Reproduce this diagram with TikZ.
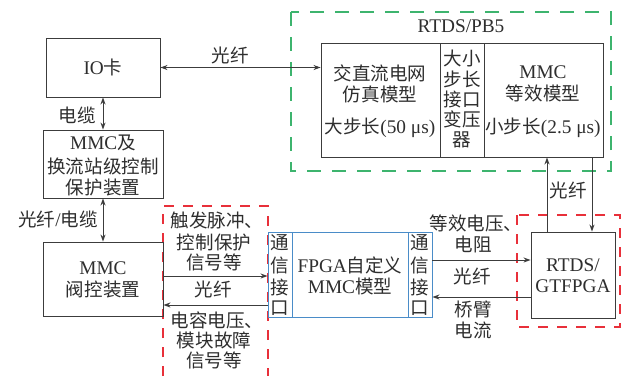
\documentclass[tikz,border=0pt]{standalone}
\usepackage{fontspec}
\setmainfont{Liberation Serif}
\newfontfamily\cjk[Scale=0.96]{Noto Sans CJK SC}
\newcommand\zh[1]{{\cjk #1}}
\usetikzlibrary{arrows.meta}
\definecolor{txt}{HTML}{2E2E2E}
\definecolor{linec}{HTML}{3C3C3C}
\definecolor{grn}{HTML}{3DB46E}
\definecolor{rd}{HTML}{E8303A}
\definecolor{blu}{HTML}{4A8CC8}
\begin{document}
\begin{tikzpicture}[x=1pt,y=-1pt,
  every node/.style={text=txt,font=\fontsize{19.3}{22}\selectfont,inner sep=0pt,align=center},
  box/.style={draw=linec,line width=0.9pt},
  conn/.style={draw=linec,line width=0.9pt},
  tip/.style={-{Stealth[length=7pt,width=5pt]}},
  dtip/.style={{Stealth[length=7pt,width=5pt]}-{Stealth[length=7pt,width=5pt]}},
  gdash/.style={draw=grn,line width=1.1pt,dash pattern=on 14pt off 11pt},
  rdash/.style={draw=rd,line width=1.1pt,dash pattern=on 10pt off 9pt}]
\useasboundingbox (0,0) rectangle (624,376);
\fill[white] (0,0) rectangle (624,376);

% dashed groups
\draw[gdash] (291,12) rectangle (611,171);
\draw[rdash] (163,376) -- (163,206) -- (268,206) -- (268,376);
\draw[rdash] (517,215) rectangle (620,327);

% left column
\node[box,minimum width=114pt,minimum height=59pt] (io) at (103,67.5) {IO\zh{卡}};
\node[box,minimum width=120pt,minimum height=68pt] (ctrl) at (103,164) {};
\node (ctrl1) at (103,143) {MMC\zh{及}};
\node (ctrl2) at (103,166) {\zh{换流站级控制}};
\node (ctrl3) at (103,187) {\zh{保护装置}};
\node[box,minimum width=120pt,minimum height=74pt] (vbc) at (103,279) {};
\node (vbc1) at (103,268) {MMC};
\node (vbc2) at (103,289) {\zh{阀控装置}};

% RTDS/PB5
\node (pb5) at (461,26) {RTDS/PB5};
\node[box,minimum width=119pt,minimum height=114pt] (lcell) at (380.5,100) {};
\node[box,minimum width=44pt,minimum height=114pt] (mcell) at (462,100) {};
\node[box,minimum width=119pt,minimum height=114pt] (rcell) at (543.5,100) {};
\node (l1) at (380,73) {\zh{交直流电网}};
\node (l2) at (380,94) {\zh{仿真模型}};
\node (l3) at (380,128) {\zh{大步长}(50 μs)};
\node (m1) at (462,58) {\zh{大小}};
\node (m2) at (462,79) {\zh{步长}};
\node (m3) at (462,99) {\zh{接口}};
\node (m4) at (462,119) {\zh{变压}};
\node (m5) at (462,140) {\zh{器}};
\node (r1) at (543,72) {MMC};
\node (r2) at (543,93) {\zh{等效模型}};
\node (r3) at (543,128) {\zh{小步长}(2.5 μs)};

% FPGA
\node[box,draw=blu,minimum width=164pt,minimum height=85pt] (fpga) at (350,274.5) {};
\node[box,draw=blu,minimum width=24pt,minimum height=85pt] (fl) at (280,274.5) {};
\node[box,draw=blu,minimum width=24pt,minimum height=85pt] (fr) at (420,274.5) {};
\foreach \n/\c/\y in {a/通/243,b/信/265,c/接/287,d/口/308}{
  \node (fl\n) at (280,\y) {\zh{\c}};
  \node (fr\n) at (420,\y) {\zh{\c}};
}
\node (f1) at (350,265) {FPGA\zh{自定义}};
\node (f2) at (350,286) {MMC\zh{模型}};

% RTDS/GTFPGA
\node[box,minimum width=84pt,minimum height=86pt] (gt) at (573,275) {};
\node (g1) at (573,265) {RTDS/};
\node (g2) at (573,286) {GTFPGA};

% connectors
\draw[conn,dtip] (io.east) -- (io.east -| lcell.west);
\node (lbA) at (230,55) {\zh{光纤}};
\draw[conn,dtip] (io.south) -- (ctrl.north);
\node (lbB) at (77,115) {\zh{电缆}};
\draw[conn,dtip] (ctrl.south) -- (vbc.north);
\node (lbC) at (58,219) {\zh{光纤}/\zh{电缆}};

\coordinate (p1) at (547,232);
\coordinate (p2) at (592,157);
\draw[conn,tip] (p1) -- (p1 |- rcell.south);
\draw[conn,tip] (p2) -- (p2 |- gt.north);
\node (lbD) at (568,190) {\zh{光纤}};

\coordinate (q1) at (163,276);
\coordinate (q2) at (268,305);
\draw[conn,tip] (q1) -- (q1 -| fpga.west);
\draw[conn,tip] (q2) -- (q2 -| vbc.east);
\node (t1) at (217,220) {\zh{触发脉冲、}};
\node (t2) at (214,242) {\zh{控制保护}};
\node (t3) at (214,262) {\zh{信号等}};
\node (t4) at (213,289) {\zh{光纤}};
\node (t5) at (217,320) {\zh{电容电压、}};
\node (t6) at (214,340) {\zh{模块故障}};
\node (t7) at (214,360) {\zh{信号等}};

\coordinate (s1) at (432,260);
\coordinate (s2) at (531,297);
\draw[conn,tip] (s1) -- (s1 -| gt.west);
\draw[conn,tip] (s2) -- (s2 -| fpga.east);
\node (u1) at (476,223) {\zh{等效电压、}};
\node (u2) at (473,244) {\zh{电阻}};
\node (u3) at (472,276) {\zh{光纤}};
\node (u4) at (473,309) {\zh{桥臂}};
\node (u5) at (473,330) {\zh{电流}};
\end{tikzpicture}
\end{document}
